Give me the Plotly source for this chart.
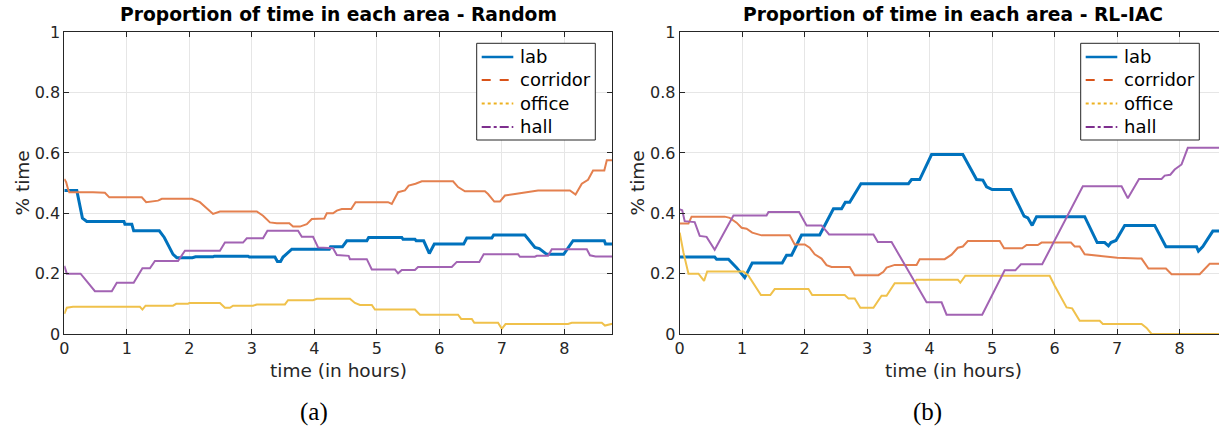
import plotly.graph_objects as go

W, H = 1219, 432

# ---------------- data: Random ----------------
rand_lab_t = [0, 0.2, 0.29, 0.36, 0.955, 0.97, 1.08, 1.11, 1.52, 1.6, 1.74, 1.8, 2.05, 2.1, 2.38, 2.4, 2.94, 2.96, 3.37, 3.41,
              3.46, 3.5, 3.64, 4.24, 4.26, 4.45, 4.52, 4.84, 4.87, 5.4, 5.42, 5.61, 5.63, 5.75, 5.84, 5.92, 6.39, 6.44, 6.84, 6.87,
              7.37, 7.53, 7.6, 7.72, 7.99, 8.14, 8.64, 8.66, 8.77]
rand_lab_v = [0.476, 0.476, 0.384, 0.373, 0.373, 0.364, 0.364, 0.342, 0.342, 0.32, 0.264, 0.253, 0.253, 0.256, 0.256, 0.258, 0.258, 0.255, 0.255, 0.24,
              0.24, 0.255, 0.281, 0.281, 0.289, 0.289, 0.309, 0.309, 0.32, 0.32, 0.314, 0.314, 0.309, 0.309, 0.267, 0.298, 0.298, 0.318, 0.318, 0.328,
              0.328, 0.287, 0.283, 0.264, 0.264, 0.309, 0.309, 0.298, 0.298]

rand_cor_t = [0, 0.03, 0.06, 0.08, 0.46, 0.65, 0.72, 1.24, 1.31, 1.5, 1.56, 2.04, 2.17, 2.3, 2.38, 2.49, 3.08, 3.18, 3.29, 3.4,
              3.6, 3.66, 3.77, 3.88, 3.96, 4.16, 4.2, 4.3, 4.36, 4.44, 4.59, 4.66, 5.18, 5.24, 5.34, 5.45, 5.51, 5.62, 5.72, 6.22,
              6.3, 6.41, 6.73, 6.78, 6.88, 6.97, 7.05, 7.21, 7.4, 7.58, 8.09, 8.18, 8.28, 8.38, 8.46, 8.64, 8.68, 8.77]
rand_cor_v = [0.514, 0.503, 0.48, 0.47, 0.47, 0.468, 0.453, 0.453, 0.437, 0.442, 0.448, 0.448, 0.437, 0.414, 0.398, 0.406, 0.406, 0.392, 0.37, 0.367,
              0.367, 0.356, 0.356, 0.364, 0.381, 0.383, 0.4, 0.4, 0.409, 0.414, 0.414, 0.437, 0.437, 0.431, 0.47, 0.476, 0.492, 0.498, 0.506, 0.506,
              0.487, 0.473, 0.473, 0.464, 0.439, 0.439, 0.459, 0.464, 0.47, 0.476, 0.476, 0.462, 0.498, 0.511, 0.542, 0.542, 0.576, 0.576]

rand_off_t = [0, 0.04, 0.14, 1.21, 1.25, 1.3, 1.74, 1.79, 1.98, 2.0, 2.49, 2.57, 2.65, 2.7, 3.02, 3.08, 3.53, 3.58, 3.98, 4.04,
              4.57, 4.65, 4.73, 4.92, 4.97, 5.61, 5.69, 6.3, 6.35, 6.52, 6.56, 6.94, 7.0, 7.06, 8.06, 8.12, 8.6, 8.65, 8.77]
rand_off_v = [0.067, 0.087, 0.09, 0.09, 0.081, 0.094, 0.094, 0.1, 0.1, 0.103, 0.103, 0.087, 0.087, 0.094, 0.094, 0.098, 0.098, 0.112, 0.112, 0.117,
              0.117, 0.103, 0.096, 0.096, 0.081, 0.081, 0.064, 0.064, 0.05, 0.05, 0.037, 0.037, 0.017, 0.033, 0.033, 0.037, 0.037, 0.028, 0.034]

rand_hall_t = [0, 0.04, 0.26, 0.41, 0.49, 0.76, 0.84, 1.11, 1.18, 1.25, 1.37, 1.45, 1.82, 1.93, 2.49, 2.57, 2.86, 2.92, 3.18, 3.25,
               3.74, 3.8, 3.98, 4.06, 4.3, 4.36, 4.55, 4.57, 4.84, 4.92, 5.29, 5.34, 5.4, 5.61, 5.66, 6.2, 6.28, 6.64, 6.71, 7.26,
               7.29, 7.53, 7.56, 7.74, 7.8, 8.36, 8.41, 8.5, 8.77]
rand_hall_v = [0.226, 0.2, 0.2, 0.164, 0.142, 0.142, 0.17, 0.17, 0.192, 0.218, 0.218, 0.242, 0.242, 0.276, 0.276, 0.303, 0.303, 0.317, 0.317, 0.342,
               0.342, 0.322, 0.322, 0.287, 0.284, 0.262, 0.259, 0.248, 0.248, 0.214, 0.214, 0.201, 0.212, 0.212, 0.222, 0.222, 0.239, 0.239, 0.264, 0.264,
               0.256, 0.256, 0.259, 0.259, 0.281, 0.281, 0.261, 0.257, 0.257]

# ---------------- data: RL-IAC ----------------
rl_lab_t = [0, 0.56, 0.59, 0.78, 0.91, 1.04, 1.16, 1.64, 1.71, 1.79, 1.95, 2.24, 2.46, 2.59, 2.65, 2.72, 2.9, 3.66, 3.71, 3.84,
            4.03, 4.53, 4.75, 4.85, 4.91, 5.0, 5.3, 5.51, 5.57, 5.64, 5.71, 6.48, 6.68, 6.8, 6.86, 6.9, 6.98, 7.12, 7.6, 7.78,
            8.27, 8.3, 8.37, 8.53, 8.77]
rl_lab_v = [0.255, 0.255, 0.248, 0.248, 0.22, 0.187, 0.235, 0.235, 0.261, 0.261, 0.328, 0.328, 0.415, 0.415, 0.437, 0.437, 0.498, 0.498, 0.512, 0.512,
            0.595, 0.595, 0.512, 0.51, 0.488, 0.479, 0.479, 0.391, 0.385, 0.36, 0.389, 0.389, 0.303, 0.303, 0.292, 0.303, 0.31, 0.36, 0.36, 0.289,
            0.289, 0.275, 0.29, 0.341, 0.341]

rl_cor_t = [0, 0.14, 0.19, 0.72, 0.8, 0.91, 0.99, 1.07, 1.16, 1.31, 1.76, 1.84, 2.0, 2.08, 2.16, 2.27, 2.35, 2.43, 2.72, 2.8,
            3.18, 3.26, 3.31, 3.44, 3.79, 3.84, 4.24, 4.35, 4.45, 4.53, 4.61, 5.12, 5.19, 5.48, 5.55, 5.73, 5.79, 6.26, 6.32, 6.4,
            6.48, 6.69, 7.0, 7.33, 7.39, 7.5, 7.78, 7.87, 8.32, 8.48, 8.77]
rl_cor_v = [0.366, 0.366, 0.389, 0.389, 0.385, 0.369, 0.352, 0.349, 0.336, 0.327, 0.327, 0.297, 0.297, 0.286, 0.264, 0.25, 0.228, 0.222, 0.222, 0.195,
            0.195, 0.206, 0.22, 0.229, 0.229, 0.248, 0.248, 0.263, 0.286, 0.29, 0.308, 0.308, 0.284, 0.284, 0.295, 0.295, 0.303, 0.303, 0.29, 0.29,
            0.264, 0.259, 0.253, 0.25, 0.25, 0.217, 0.217, 0.198, 0.198, 0.233, 0.233]

rl_off_t = [0, 0.06, 0.14, 0.3, 0.39, 0.44, 1.02, 1.1, 1.3, 1.45, 1.52, 2.06, 2.12, 2.64, 2.7, 2.8, 2.89, 3.1, 3.23, 3.31,
            3.44, 3.74, 3.79, 4.45, 4.49, 4.57, 5.92, 6.0, 6.19, 6.28, 6.4, 6.72, 6.77, 7.39, 7.47, 7.55, 8.77]
rl_off_v = [0.336, 0.27, 0.2, 0.2, 0.176, 0.207, 0.207, 0.193, 0.129, 0.129, 0.149, 0.149, 0.129, 0.129, 0.118, 0.118, 0.087, 0.087, 0.127, 0.127,
            0.168, 0.168, 0.18, 0.18, 0.17, 0.193, 0.193, 0.16, 0.088, 0.085, 0.044, 0.044, 0.033, 0.033, 0.02, 0.0, 0.0]

rl_hall_t = [0, 0.04, 0.08, 0.24, 0.32, 0.43, 0.56, 0.86, 1.39, 1.42, 1.91, 2.03, 2.27, 2.39, 3.1, 3.17, 3.39, 3.95, 4.19, 4.27,
             4.84, 5.2, 5.37, 5.46, 5.8, 6.45, 7.07, 7.17, 7.35, 7.71, 7.76, 7.85, 7.92, 8.03, 8.13, 8.77]
rl_hall_v = [0.413, 0.41, 0.374, 0.371, 0.325, 0.322, 0.279, 0.393, 0.393, 0.404, 0.404, 0.36, 0.36, 0.33, 0.33, 0.305, 0.305, 0.105, 0.105, 0.064,
             0.064, 0.211, 0.211, 0.231, 0.231, 0.49, 0.49, 0.45, 0.514, 0.514, 0.525, 0.528, 0.545, 0.562, 0.617, 0.617]

series_names = ["lab", "corridor", "office", "hall"]
x_ticks = [0, 1, 2, 3, 4, 5, 6, 7, 8]
y_ticks = [0, 0.2, 0.4, 0.6, 0.8, 1]
y_tick_labels = ["0", "0.2", "0.4", "0.6", "0.8", "1"]
titles = ["Proportion of time in each area - Random", "Proportion of time in each area - RL-IAC"]
captions = ["(a)", "(b)"]

# ---------------- styles ----------------
line_colors = ["#0072BD", "#E4804F", "#F0C14B", "#A263B3"]
legend_colors = ["#0072BD", "#D95319", "#EDB120", "#7E2F8E"]
line_widths = [3, 2, 2, 2]
legend_widths = [2.5, 2, 2, 2]
legend_dash = ["solid", "dash", "dot", "dashdot"]
FONT = "DejaVu Sans"
AX = "#262626"


def px_x(p):
    return p / W


def px_y(p):
    return 1 - p / H


fig = go.Figure()

panels = [
    ("x", "y", [(rand_lab_t, rand_lab_v), (rand_cor_t, rand_cor_v), (rand_off_t, rand_off_v), (rand_hall_t, rand_hall_v)]),
    ("x2", "y2", [(rl_lab_t, rl_lab_v), (rl_cor_t, rl_cor_v), (rl_off_t, rl_off_v), (rl_hall_t, rl_hall_v)]),
]

for xa, ya, data in panels:
    for i, (t, v) in enumerate(data):
        fig.add_trace(go.Scatter(x=t, y=v, mode="lines", xaxis=xa, yaxis=ya, showlegend=False, name=series_names[i],
                                 line=dict(color=line_colors[i], width=line_widths[i])))

ydom = [px_y(334), px_y(32.3)]
common_x = dict(tickmode="array", tickvals=x_ticks, ticks="inside", ticklen=5, tickcolor=AX,
                showline=True, linecolor=AX, linewidth=1, showgrid=True, gridcolor="#E6E6E6", gridwidth=1,
                zeroline=False, tickfont=dict(family=FONT, size=16, color=AX), mirror="ticks", automargin=False)
common_y = dict(tickmode="array", tickvals=y_ticks, ticktext=y_tick_labels, ticks="inside", ticklen=5, tickcolor=AX,
                showline=True, linecolor=AX, linewidth=1, showgrid=True, gridcolor="#E6E6E6", gridwidth=1,
                zeroline=False, tickfont=dict(family=FONT, size=16, color=AX), range=[0, 1], domain=ydom,
                automargin=False)

fig.update_layout(
    width=W, height=H, margin=dict(l=0, r=0, t=0, b=0, pad=0, autoexpand=False),
    paper_bgcolor="white", plot_bgcolor="white", showlegend=False,
    xaxis=dict(**common_x, domain=[px_x(64.3), px_x(612.3)], range=[0, 8.768], anchor="y"),
    yaxis=dict(**common_y, mirror="ticks", anchor="x"),
    xaxis2=dict(**common_x, domain=[px_x(679.7), 1.0], range=[0, 8.629], anchor="y2"),
    yaxis2=dict(**common_y, mirror=False, anchor="x2"),
)

centers = [338.3, 953.3]
ylab_x = [21.5, 636.5]
cap_x = [314, 928]
legend_left = [476.7, 1080.7]
legend_rows = [57, 80, 103.5, 127]
for k in range(2):
    fig.add_annotation(text="<b>" + titles[k] + "</b>", xref="paper", yref="paper", x=px_x(centers[k]), y=px_y(15),
                       xanchor="center", yanchor="middle", showarrow=False, font=dict(family=FONT, size=18.7, color="black"))
    fig.add_annotation(text="time (in hours)", xref="paper", yref="paper", x=px_x(centers[k]), y=px_y(370),
                       xanchor="center", yanchor="middle", showarrow=False, font=dict(family=FONT, size=18.5, color=AX))
    fig.add_annotation(text="% time", xref="paper", yref="paper", x=px_x(ylab_x[k]), y=px_y(183), textangle=-90,
                       xanchor="center", yanchor="middle", showarrow=False, font=dict(family=FONT, size=18.5, color=AX))
    fig.add_annotation(text=captions[k], xref="paper", yref="paper", x=px_x(cap_x[k]), y=px_y(412),
                       xanchor="center", yanchor="middle", showarrow=False, font=dict(family="Liberation Serif", size=25, color="black"))
    # legend box
    L = legend_left[k]
    fig.add_shape(type="rect", xref="paper", yref="paper", x0=px_x(L), x1=px_x(L + 118.6), y0=px_y(140), y1=px_y(43.3),
                  line=dict(color=AX, width=1), fillcolor="white", layer="above")
    for i, name in enumerate(series_names):
        yy = legend_rows[i]
        fig.add_shape(type="line", xref="paper", yref="paper", x0=px_x(L + 5), x1=px_x(L + 36.6), y0=px_y(yy), y1=px_y(yy),
                      line=dict(color=legend_colors[i], width=legend_widths[i], dash=legend_dash[i]), layer="above")
        fig.add_annotation(text=name, xref="paper", yref="paper", x=px_x(L + 41), y=px_y(yy), xanchor="left", yanchor="middle",
                           showarrow=False, font=dict(family=FONT, size=18, color="black"))

fig.write_html("out.html", config={"displayModeBar": False},
               post_script="document.body.style.margin='0px';document.body.style.overflow='hidden';")
